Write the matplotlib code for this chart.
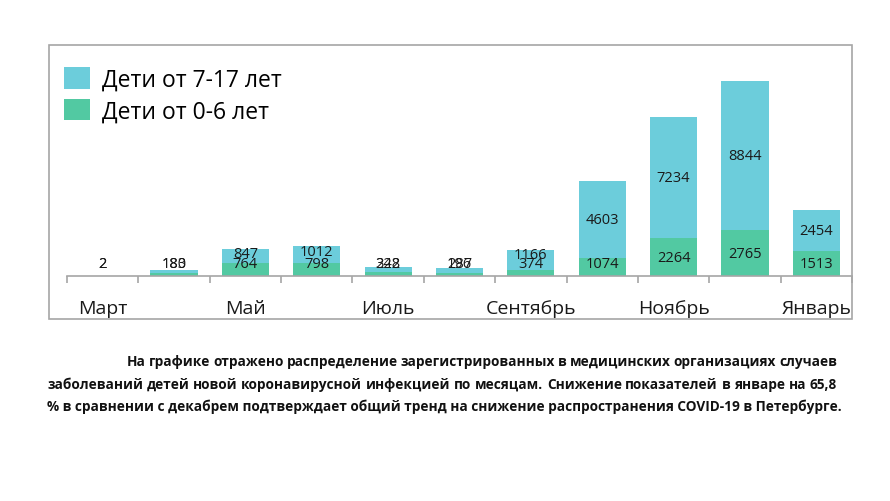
import matplotlib
matplotlib.use("Agg")
import matplotlib.pyplot as plt
from matplotlib.patches import Rectangle

plt.rcParams['font.family'] = ['Open Sans', 'DejaVu Sans']

# --- data ---------------------------------------------------------------------
months       = ["Март", "Апрель", "Май", "Июнь", "Июль", "Август",
                "Сентябрь", "Октябрь", "Ноябрь", "Декабрь", "Январь"]
age_0_6      = [2, 180, 764, 798, 242, 196, 374, 1074, 2264, 2765, 1513]
age_7_17     = [2, 183, 847, 1012, 328, 287, 1166, 4603, 7234, 8844, 2454]
shown_months = ["Март", "Май", "Июль", "Сентябрь", "Ноябрь", "Январь"]
legend_names = ["Дети от 7-17 лет", "Дети от 0-6 лет"]
caption = [
    "На графике отражено распределение зарегистрированных в медицинских организациях случаев",
    "заболеваний детей новой коронавирусной инфекцией по месяцам. Снижение показателей в январе на 65,8",
    "% в сравнении с декабрем подтверждает общий тренд на снижение распространения COVID-19 в Петербурге.",
]

CYAN  = "#6CCDDB"
GREEN = "#52C9A2"
GRAY  = "#A6A6A6"

# --- figure / axes in pixel terms --------------------------------------------
W, H = 890, 502
fig = plt.figure(figsize=(W / 100, H / 100), dpi=100)

YMAX    = 14000
base_px = 277.3
ax_h_px = 235.2
ax = fig.add_axes([67 / W, (H - base_px) / H, 785 / W, ax_h_px / H])

# outer chart frame
fig.patches.append(Rectangle((49 / W, (H - 320) / H), (852 - 49) / W, (320 - 46) / H,
                             transform=fig.transFigure, fill=False,
                             edgecolor=GRAY, lw=1.2))

x = [i + 0.5 for i in range(len(months))]
b1 = ax.bar(x, age_0_6, width=0.66, color=GREEN, label=legend_names[1])
b2 = ax.bar(x, age_7_17, width=0.66, bottom=age_0_6, color=CYAN, label=legend_names[0])

ax.set_xlim(0, len(months))
ax.set_ylim(0, YMAX)
for s in ("top", "left", "right"):
    ax.spines[s].set_visible(False)
ax.spines["bottom"].set_color(GRAY)
ax.spines["bottom"].set_linewidth(1.2)
ax.set_yticks([])

ax.set_xticks(range(len(months) + 1), minor=True)
ax.tick_params(axis="x", which="minor", length=5, width=1.2, color=GRAY)
ax.set_xticks([x[months.index(m)] for m in shown_months])
ax.set_xticklabels(shown_months, fontsize=14, color="#1a1a1a")
ax.tick_params(axis="x", which="major", length=0, pad=16)

# data labels, centred in segments but kept clear of the axis
u = YMAX / ax_h_px      # data units per pixel
floor, gap, half = 13 * u, 12 * u, 4 * u
for i in range(len(months)):
    g, c = age_0_6[i], age_7_17[i]
    gy = max(g / 2, floor)
    cy = max(g + c / 2, floor, min(floor + gap, g + c - half))
    ax.text(x[i], gy, str(g), ha="center", va="center", fontsize=10.5, color="#1a1a1a")
    ax.text(x[i], cy, str(c), ha="center", va="center", fontsize=10.5, color="#1a1a1a")

ax.legend(handles=[b2, b1], loc="upper left", bbox_to_anchor=(64 / W, (H - 68) / H),
          bbox_transform=fig.transFigure, frameon=False, fontsize=16.5,
          handlelength=1.13, handleheight=1.08, handletextpad=0.55,
          labelspacing=0.3, borderpad=0, borderaxespad=0)

# --- caption (justified lines) ------------------------------------------------
cap_kw = dict(fontsize=9.8, fontweight="bold", color="#111111", va="center")
rend = fig.canvas.get_renderer()


def justify(line, x0, x1, y):
    words = line.split(" ")
    texts = [fig.text(0, (H - y) / H, w, **cap_kw) for w in words]
    widths = [t.get_window_extent(rend).width for t in texts]
    space = (x1 - x0 - sum(widths)) / (len(words) - 1)
    pos = x0
    for t, w in zip(texts, widths):
        t.set_x(pos / W)
        pos += w + space


justify(caption[0], 127, 837, 362)
justify(caption[1], 47, 837, 385)
fig.text(47 / W, (H - 407) / H, caption[2], **cap_kw)

fig.savefig("out.png", dpi=100)
